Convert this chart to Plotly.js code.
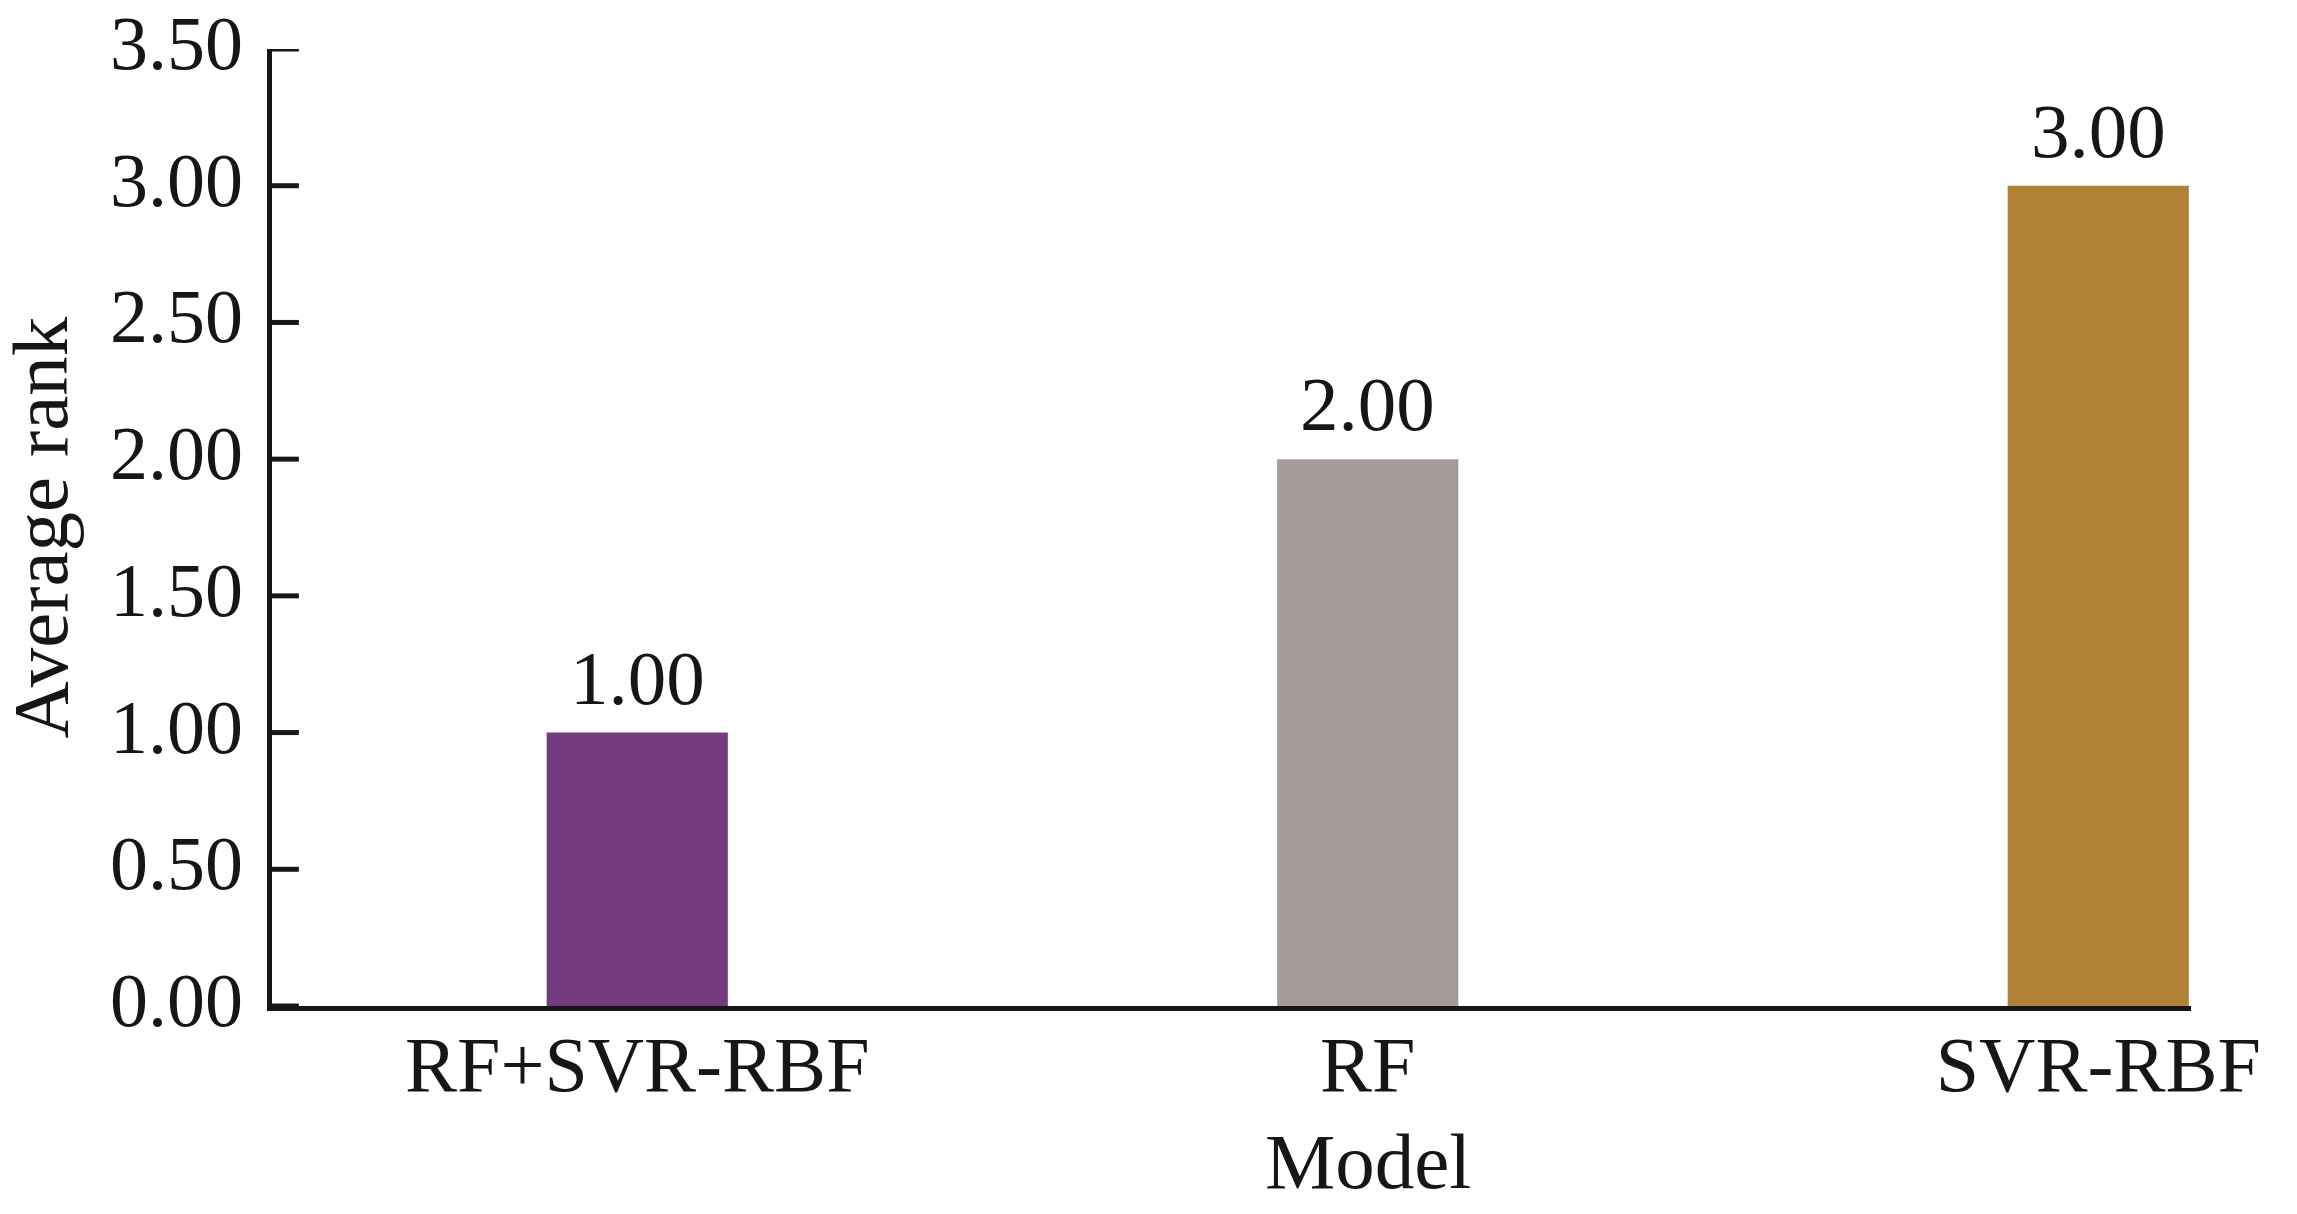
<!DOCTYPE html>
<html>
<head>
<meta charset="utf-8">
<script src="https://cdn.plot.ly/plotly-3.0.1.min.js"></script>
<style>
  html, body { margin: 0; padding: 0; background: #fff; }
  #chart { width: 2297px; height: 1214px; }
</style>
</head>
<body>
<div id="chart"></div>
<script>
// values
const models = ['RF+SVR-RBF', 'RF', 'SVR-RBF'];
const avgRank = [1.00, 2.00, 3.00];
const barColors = ['#743b7f', '#a49a97', '#b08236'];
const yTicks = [0, 0.5, 1, 1.5, 2, 2.5, 3, 3.5];

const serif = 'Liberation Serif, Times New Roman, serif';
const ink = '#161616';

const trace = {
    type: 'bar',
    x: models,
    y: avgRank,
    marker: { color: barColors, line: { width: 0 } },
    hoverinfo: 'none'
};

// value labels above each bar
const valueLabels = models.map((m, i) => ({
    xref: 'x', x: m,
    yref: 'y', y: avgRank[i],
    text: avgRank[i].toFixed(2),
    yanchor: 'bottom',
    yshift: 10,
    showarrow: false,
    font: { family: serif, size: 77, color: ink }
}));

// y tick labels sit a little above their tick in the reference
const yTickLabels = yTicks.map(v => ({
    xref: 'paper', x: 0,
    yref: 'y', y: v,
    text: v.toFixed(2),
    xanchor: 'right',
    yanchor: 'middle',
    xshift: -28,
    yshift: 6,
    borderpad: 0,
    showarrow: false,
    font: { family: serif, size: 76, color: ink }
}));

// short inward tick marks on the y axis
const tickMarks = yTicks.map(v => ({
    type: 'line',
    xref: 'x domain', x0: 0, x1: 0.014,
    yref: 'y', y0: v, y1: v,
    line: { color: ink, width: 5 },
    layer: 'above'
}));

const titles = [
    {
        text: 'Average rank',
        textangle: -90,
        xref: 'paper', x: 0, xanchor: 'center', xshift: -232,
        yref: 'paper', y: 0.5, yanchor: 'middle',
        borderpad: 0,
        showarrow: false,
        font: { family: serif, size: 79, color: ink }
    },
    {
        // x-axis title sits under the middle category in the reference
        text: 'Model',
        xref: 'x', x: models[1],
        yref: 'paper', y: 0, yanchor: 'top', yshift: -110,
        showarrow: false,
        font: { family: serif, size: 79, color: ink }
    }
];

const layout = {
    width: 2297,
    height: 1214,
    margin: { l: 272, r: 106, t: 49, b: 208 },
    paper_bgcolor: '#fff',
    plot_bgcolor: '#fff',
    showlegend: false,
    bargap: 0.752,
    font: { family: serif, size: 78, color: ink },
    xaxis: {
        type: 'category',
        range: [-0.5, 2.127],
        showline: true,
        linecolor: ink,
        linewidth: 5,
        ticks: '',
        showgrid: false,
        zeroline: false,
        tickfont: { family: serif, size: 78, color: ink },
        ticklabelstandoff: -14
    },
    yaxis: {
        range: [0, 3.5],
        tickmode: 'array',
        tickvals: yTicks,
        showticklabels: false,
        showline: true,
        linecolor: ink,
        linewidth: 5,
        ticks: '',
        showgrid: false,
        zeroline: false
    },
    shapes: tickMarks,
    annotations: valueLabels.concat(yTickLabels, titles)
};

Plotly.newPlot('chart', [trace], layout, { staticPlot: true });
</script>
</body>
</html>
